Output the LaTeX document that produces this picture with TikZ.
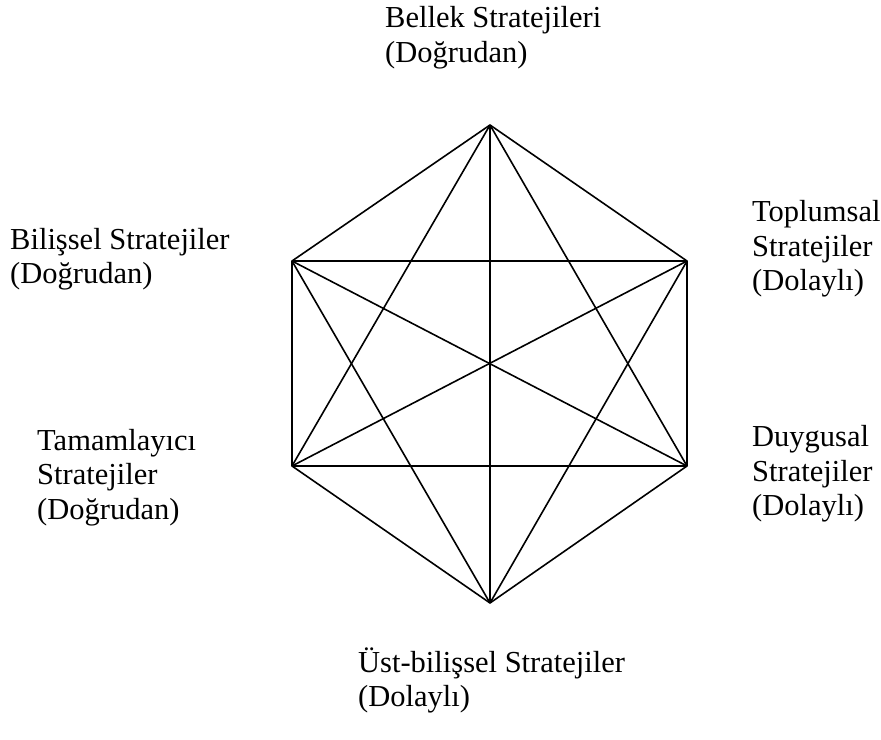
\documentclass[tikz,border=0pt]{standalone}
\usepackage{fontspec}
\setmainfont{Liberation Serif}
\usepackage{tikz}

\tikzset{
	lbl/.style={anchor=west, align=left, inner sep=0pt, font=\fontsize{30.5bp}{34.5bp}\selectfont},
	edge/.style={line width=1.6bp, line join=round}
}

\begin{document}
\begin{tikzpicture}[x=1bp, y=-1bp]
		\useasboundingbox (0, 0) rectangle (881, 740);
		% corners of the hexagon
		\coordinate (bel) at (490, 125);
		\coordinate (top) at (687, 261);
		\coordinate (duy) at (687, 466);
		\coordinate (ust) at (490, 603);
		\coordinate (tam) at (292, 466);
		\coordinate (bil) at (292, 261);
		% outline
		\draw [edge] (bel) -- (top) -- (duy) -- (ust) -- (tam) -- (bil) -- cycle;
		% diagonals
		\draw [edge] (bel) -- (ust);
		\draw [edge] (bel) -- (duy);
		\draw [edge] (bel) -- (tam);
		\draw [edge] (top) -- (bil);
		\draw [edge] (top) -- (tam);
		\draw [edge] (top) -- (ust);
		\draw [edge] (duy) -- (tam);
		\draw [edge] (duy) -- (bil);
		\draw [edge] (ust) -- (bil);
		% labels
		\node (belLbl) at (385, 37.5) [lbl] {Bellek Stratejileri\\(Doğrudan)};
		\node (topLbl) at (752, 249) [lbl] {Toplumsal\\Stratejiler\\(Dolaylı)};
		\node (duyLbl) at (752, 474) [lbl] {Duygusal\\Stratejiler\\(Dolaylı)};
		\node (ustLbl) at (358, 680.5) [lbl] {Üst-bilişsel Stratejiler\\(Dolaylı)};
		\node (tamLbl) at (37, 477.5) [lbl] {Tamamlayıcı\\Stratejiler\\(Doğrudan)};
		\node (bilLbl) at (10, 259) [lbl] {Bilişsel Stratejiler\\(Doğrudan)};
	\end{tikzpicture}
\end{document}
